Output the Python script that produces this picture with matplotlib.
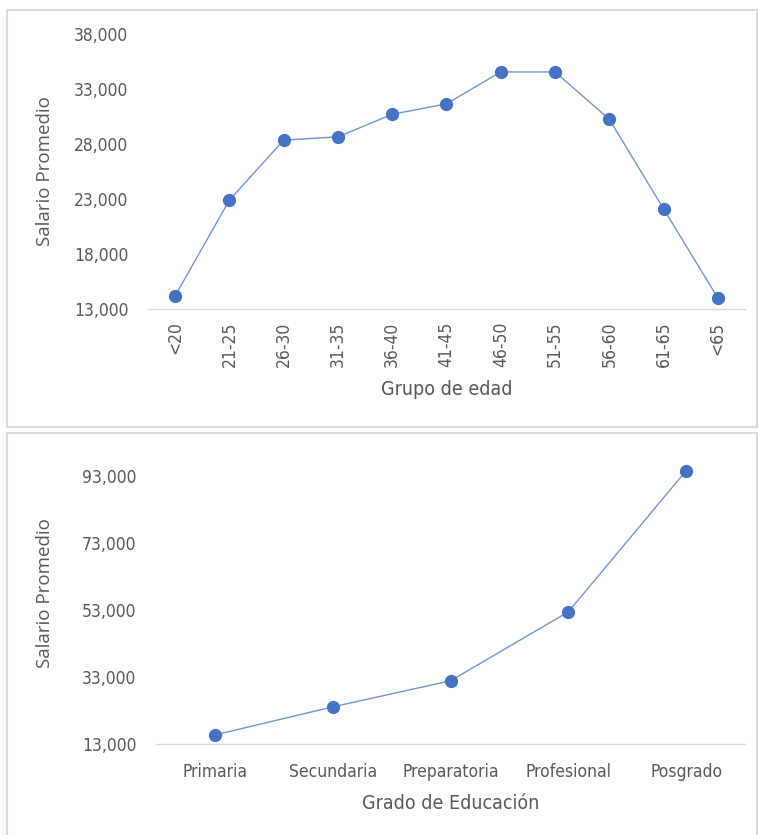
import matplotlib
matplotlib.use("Agg")
import matplotlib.pyplot as plt
from matplotlib.patches import Rectangle
from matplotlib.ticker import FuncFormatter

# data
age_groups = ["<20", "21-25", "26-30", "31-35", "36-40", "41-45",
              "46-50", "51-55", "56-60", "61-65", "<65"]
age_salary = [14200, 22900, 28350, 28650, 30700, 31650,
              34550, 34550, 30250, 22100, 14000]
age_ticks = [13000, 18000, 23000, 28000, 33000, 38000]

edu_levels = ["Primaria", "Secundaria", "Preparatoria", "Profesional", "Posgrado"]
edu_salary = [15700, 24100, 31900, 52500, 94700]
edu_ticks = [13000, 33000, 53000, 73000, 93000]

blue = "#4472C4"
grey_txt = "#595959"
tick_font = ["DejaVu Sans"]
label_font = ["Open Sans", "DejaVu Sans"]

W, H = 758, 835
fig = plt.figure(figsize=(W / 100, H / 100), dpi=100)

# chart borders (Excel chart areas)
for (x0, y0, x1, y1) in [(7, 10, 757, 427), (7, 433, 757, 840)]:
    fig.patches.append(Rectangle((x0 / W, 1 - y1 / H), (x1 - x0) / W, (y1 - y0) / H,
                                 transform=fig.transFigure, fill=False,
                                 edgecolor="#d9d9d9", lw=1.5))

fmt = FuncFormatter(lambda v, p: f"{int(v):,}")


def style(ax, ticks, ylim):
    for s in ["top", "right", "left"]:
        ax.spines[s].set_visible(False)
    ax.spines["bottom"].set_color("#d9d9d9")
    ax.spines["bottom"].set_linewidth(1)
    ax.set_ylim(*ylim)
    ax.set_yticks(ticks)
    ax.yaxis.set_major_formatter(fmt)
    ax.tick_params(length=0, colors=grey_txt, labelsize=12.5)
    ax.tick_params(axis="y", pad=14)
    for t in ax.get_yticklabels() + ax.get_xticklabels():
        t.set_family(tick_font)
        t.set_stretch("condensed")
    ax.set_ylabel("Salario Promedio", color=grey_txt, fontsize=13.5, family=label_font)


# top chart: age groups
ax1 = fig.add_axes([148 / W, 1 - 309 / H, (745 - 148) / W, (309 - 34) / H])
x1 = range(len(age_groups))
ax1.plot(x1, age_salary, color=blue, lw=1, alpha=0.75)
ax1.plot(x1, age_salary, "o", color=blue, ms=8.5)
ax1.set_xlim(-0.5, len(age_groups) - 0.5)
ax1.set_xticks(list(x1))
ax1.set_xticklabels(age_groups, rotation=90)
style(ax1, age_ticks, (13000, 38000))
ax1.tick_params(axis="x", pad=9)
ax1.set_xlabel("Grupo de edad", color=grey_txt, fontsize=14, family=tick_font,
               fontstretch="condensed", labelpad=9)
ax1.yaxis.set_label_coords(-0.158, 0.5)

# bottom chart: education
ax2 = fig.add_axes([156 / W, 1 - 744 / H, (745 - 156) / W, (744 - 443) / H])
x2 = range(len(edu_levels))
ax2.plot(x2, edu_salary, color=blue, lw=1, alpha=0.75)
ax2.plot(x2, edu_salary, "o", color=blue, ms=8.5)
ax2.set_xlim(-0.5, len(edu_levels) - 0.5)
ax2.set_xticks(list(x2))
ax2.set_xticklabels(edu_levels)
style(ax2, edu_ticks, (13000, 103000))
ax2.tick_params(axis="x", pad=14)
ax2.set_xlabel("Grado de Educación", color=grey_txt, fontsize=14, family=tick_font,
               fontstretch="condensed", labelpad=9)
ax2.yaxis.set_label_coords(-0.173, 0.5)

fig.savefig("out.png", dpi=100)
